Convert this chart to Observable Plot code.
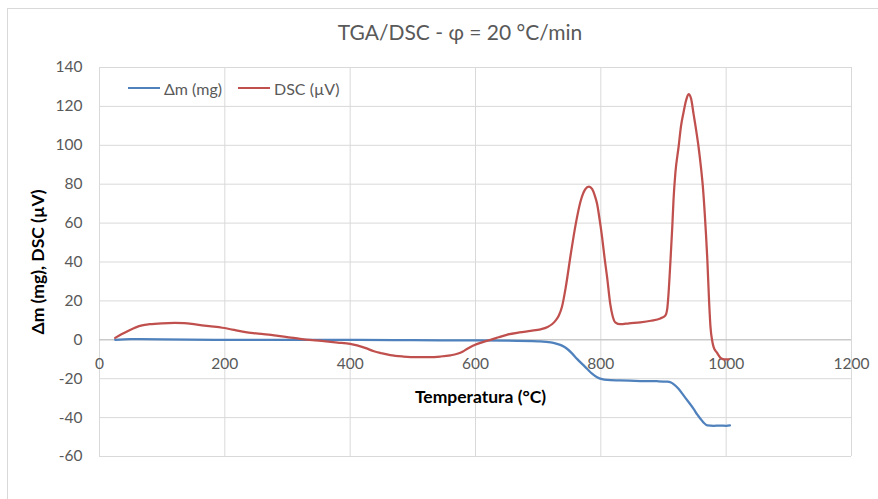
<!DOCTYPE html>
<html><head><meta charset="utf-8">
<script src="https://cdn.jsdelivr.net/npm/d3@7"></script>
<script src="https://cdn.jsdelivr.net/npm/@observablehq/plot@0.6"></script>
<style>
body{margin:0;background:#fff;font-family:Lato,"Open Sans",sans-serif;}
#wrap{position:relative;width:878px;height:499px;overflow:hidden;background:#fff;}
#border{position:absolute;left:7px;top:8px;width:900px;height:520px;border:1px solid #d9d9d9;box-sizing:border-box;pointer-events:none;}
#title{position:absolute;left:42px;top:0;width:836px;height:50px;line-height:64px;text-align:center;font-size:21px;color:#595959;}
#chart{position:absolute;left:0;top:50px;}
#legend{position:absolute;left:0;top:79px;width:400px;height:18px;font-size:16px;color:#595959;white-space:nowrap;}
#legend .sw{display:inline-block;width:32px;height:2.5px;margin-right:4px;}
#legend .it{position:absolute;top:0;display:flex;align-items:center;height:18px;}
</style></head>
<body>
<div id="wrap">
  <div id="border"></div>
  <div id="title">TGA/DSC - φ = 20 °C/min</div>
  <div id="chart"></div>
  <div id="legend"></div>
</div>
<script>
const xTicks = [0, 200, 400, 600, 800, 1000, 1200];
const yTicks = [-60, -40, -20, 0, 20, 40, 60, 80, 100, 120, 140];
const seriesNames = ["Δm (mg)", "DSC (µV)"];
const seriesColors = ["#4F81BD", "#C0504D"];

const tempDm = [25, 50, 100, 200, 300, 400, 500, 600, 650, 700, 720, 730, 738, 746, 754, 762, 770, 778, 786, 794, 802, 810, 830, 863, 890, 906, 912, 916, 924, 932, 940, 948, 954, 959, 964, 970, 980, 990, 1000, 1006];
const dm = [0.0, 0.3, 0.2, 0.0, 0.0, 0.0, -0.2, -0.3, -0.4, -0.8, -1.3, -2.1, -3.0, -4.6, -7.0, -9.8, -12.4, -14.9, -17.4, -19.2, -20.2, -20.6, -20.9, -21.2, -21.3, -21.5, -22.0, -22.8, -25.2, -28.6, -32.0, -35.5, -38.5, -40.6, -42.6, -44.0, -44.2, -44.1, -44.2, -44.0];

const tempDsc = [25, 35, 47, 58, 68, 80, 100, 120, 135, 153, 175, 196, 215, 233, 250, 270, 285, 302, 320, 340, 358, 380, 400, 411, 425, 438, 450, 464, 485, 507, 525, 544, 560, 571, 580, 587, 595, 603, 614, 624, 637, 651, 670, 688, 704, 715, 722, 728, 733, 738, 744, 752, 760, 768, 775, 781, 786, 790, 794, 798, 802, 806, 810, 815, 819, 823, 831, 845, 863, 880, 895, 903, 906, 908, 911, 914, 916, 919, 924, 928, 932, 936, 940, 944, 948, 952, 956, 960, 963, 966, 970, 973, 975, 978, 980, 985, 991, 996, 1004];
const dsc = [1.0, 2.8, 4.8, 6.4, 7.4, 8.0, 8.5, 8.7, 8.6, 7.9, 7.0, 6.2, 5.1, 3.9, 3.3, 2.7, 2.0, 1.3, 0.5, -0.2, -0.7, -1.4, -2.1, -2.9, -4.3, -5.9, -6.9, -7.9, -8.6, -8.9, -8.9, -8.6, -8.0, -7.2, -6.0, -4.6, -3.2, -2.1, -0.9, 0.0, 1.3, 2.7, 3.8, 4.6, 5.4, 6.6, 8.0, 10.0, 12.5, 17, 27, 44, 59.6, 71.6, 77.3, 78.8, 77.6, 74.5, 69.9, 62, 52.8, 42, 32.2, 18.5, 12, 9.0, 8.0, 8.5, 9.0, 9.8, 11.0, 12.5, 16, 23.6, 40, 58, 72, 86, 99, 110, 117, 123, 126.3, 124, 116, 108, 99, 88, 78, 64, 40.8, 18, 6.5, -1, -3.8, -6.5, -9.3, -10, -10];

const dmRows = tempDm.map((t, i) => ({t, v: dm[i]}));
const dscRows = tempDsc.map((t, i) => ({t, v: dsc[i]}));

const chart = Plot.plot({
  width: 878, height: 449,
  marginTop: 17, marginBottom: 43, marginLeft: 99, marginRight: 27,
  x: {domain: [0, 1200], axis: null},
  y: {domain: [-60, 140], axis: null},
  style: {fontFamily: "Lato, 'Open Sans', sans-serif", fontSize: "15.5px", color: "#595959", background: "transparent", overflow: "visible"},
  marks: [
    Plot.gridX(xTicks, {stroke: "#d9d9d9", strokeOpacity: 1}),
    Plot.gridY(yTicks, {stroke: "#d9d9d9", strokeOpacity: 1}),
    Plot.ruleY([0], {stroke: "#bfbfbf", strokeWidth: 1}),
    Plot.axisY(yTicks, {tickSize: 0, tickPadding: 17, label: null, tickFormat: d => String(d), fill: "#595959"}),
    Plot.text(xTicks, {x: d => d, y: 0, dy: 24, text: d => String(d), fill: "#595959"}),
    Plot.text(["Temperatura (°C)"], {frameAnchor: "top", dy: 330, dx: 5, lineAnchor: "middle", textAnchor: "middle", fontWeight: "bold", fill: "#000", fontSize: 17.5}),
    Plot.text(["Δm (mg), DSC (µV)"], {frameAnchor: "left", dx: -61, rotate: -90, textAnchor: "middle", lineAnchor: "middle", fontWeight: "bold", fill: "#000", fontSize: 17.5}),
    Plot.line(dmRows, {x: "t", y: "v", stroke: seriesColors[0], strokeWidth: 2.25, curve: "monotone-x"}),
    Plot.line(dscRows, {x: "t", y: "v", stroke: seriesColors[1], strokeWidth: 2.25, curve: "monotone-x"})
  ]
});
document.getElementById("chart").appendChild(chart);

const legend = document.getElementById("legend");
const legendLeft = [128, 238];
seriesNames.forEach((name, i) => {
  const it = document.createElement("div");
  it.className = "it";
  it.style.left = legendLeft[i] + "px";
  const sw = document.createElement("span");
  sw.className = "sw";
  sw.style.background = seriesColors[i];
  const tx = document.createElement("span");
  tx.textContent = name;
  it.appendChild(sw); it.appendChild(tx);
  legend.appendChild(it);
});
</script>
</body></html>
